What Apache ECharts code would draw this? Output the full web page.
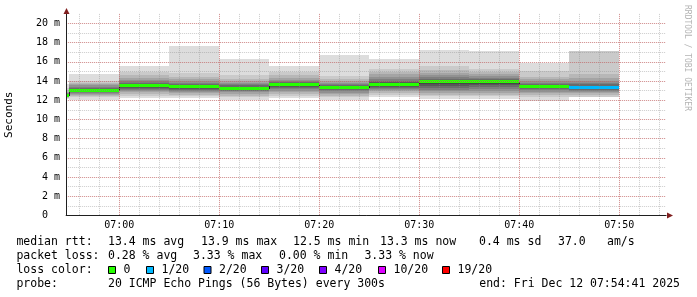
<!DOCTYPE html>
<html><head><meta charset="utf-8">
<script src="https://cdn.jsdelivr.net/npm/echarts@6/dist/echarts.min.js"></script>
<style>html,body{margin:0;padding:0;background:#fff}#c{width:697px;height:297px}</style>
</head><body><div id="c"></div>
<script>
// ---------------- data ----------------
const viewStart = '06:54:41';
const viewEnd = '07:54:41';
const stepMinutes = 5;
const stepStart = ['06:50','06:55','07:00','07:05','07:10','07:15','07:20','07:25','07:30','07:35','07:40','07:45'];
const medianMs = [12.5, 13.0, 13.45, 13.35, 13.2, 13.6, 13.3, 13.6, 13.9, 13.9, 13.4, 13.25];
const lostPings = [0,0,0,0,0,0,0,0,0,0,0,1];
// sorted round-trip times of the 20 pings per step (ms); null = lost
const pings = [
  [12.1,12.2,12.28,12.33,12.38,12.42,12.45,12.48,12.5,12.5,12.52,12.55,12.6,12.65,12.72,12.8,12.9,13.05,13.3,13.7],
  [12.0,12.3,12.45,12.6,12.7,12.8,12.85,12.9,12.95,13.0,13.02,13.1,13.2,13.3,13.4,13.55,13.7,13.85,14.05,14.75],
  [12.25,12.5,12.7,12.85,12.95,13.05,13.15,13.25,13.35,13.42,13.48,13.6,13.7,13.85,14.0,14.15,14.35,14.6,14.9,15.6],
  [12.2,12.45,12.6,12.75,12.9,13.0,13.1,13.2,13.27,13.33,13.38,13.5,13.6,13.7,13.85,14.0,14.2,14.45,14.8,17.7],
  [12.0,12.3,12.5,12.7,12.85,12.95,13.02,13.1,13.15,13.2,13.22,13.3,13.4,13.55,13.7,13.85,14.0,14.25,14.6,16.3],
  [12.2,12.5,12.7,12.85,13.0,13.15,13.25,13.35,13.45,13.55,13.62,13.7,13.8,13.9,14.0,14.15,14.35,14.6,14.95,15.55],
  [12.0,12.3,12.5,12.65,12.8,12.95,13.05,13.15,13.22,13.28,13.32,13.4,13.5,13.6,13.7,13.85,14.0,14.2,14.5,16.7],
  [12.35,12.6,12.8,12.95,13.1,13.2,13.3,13.4,13.5,13.58,13.62,13.75,13.9,14.05,14.25,14.45,14.7,15.0,15.3,16.35],
  [12.1,12.4,12.6,12.8,12.95,13.1,13.3,13.5,13.7,13.87,13.92,14.0,14.1,14.25,14.4,14.6,14.85,15.2,15.6,17.25],
  [12.1,12.4,12.6,12.8,12.95,13.15,13.35,13.55,13.75,13.87,13.92,14.0,14.1,14.2,14.35,14.5,14.7,14.95,15.25,17.1],
  [11.95,12.3,12.55,12.75,12.9,13.05,13.15,13.25,13.33,13.38,13.42,13.5,13.6,13.7,13.85,14.0,14.2,14.45,15.1,15.85],
  [12.2,12.35,12.55,12.75,12.9,13.0,13.08,13.15,13.2,13.25,13.3,13.38,13.5,13.65,13.8,14.0,14.3,14.7,17.1,null]
];
const yTickLabels = ['0  ','2 m','4 m','6 m','8 m','10 m','12 m','14 m','16 m','18 m','20 m'];
const yAxisName = 'Seconds';
const lossThresholds = [0,1,2,3,4,10,19];
const lossLabels = ['0','1/20','2/20','3/20','4/20','10/20','19/20'];
const lossColors = ['#26ff00','#00b8ff','#0059ff','#5e00ff','#7e00ff','#dd00ff','#ff0000'];
const rttLegend = ['median rtt:','13.4 ms avg','13.9 ms max','12.5 ms min','13.3 ms now','0.4 ms sd','37.0','am/s'];
const lossLegend = ['packet loss:','0.28 % avg','3.33 % max','0.00 % min','3.33 % now'];
const lossColorTitle = 'loss color:';
const probeLegend = ['probe:','20 ICMP Echo Pings (56 Bytes) every 300s'];
const endLegend = 'end: Fri Dec 12 07:54:41 2025';
const watermark = 'RRDTOOL / TOBI OETIKER';

// ---------------- layout / style ----------------
const FONT = '"DejaVu Sans Mono", monospace';
const rttX = [16.4,108,201,293,380,479,558,607];
const lossX = [16.4,108,193,279,364.4];
const boxX = [108,146,203.5,261,319,378,442];
const probeX = [16.4,108];
const rowY = [242.5,256.5,270.5,284.5];
const gridLeft = 66.13, gridTop = 13.9, plotW = 600, plotH = 201.6;

const toMin = s => { const p = s.split(':').map(Number); return p[0]*60 + p[1] + (p[2]||0)/60; };
const pad2 = n => String(n).padStart(2,'0');
const xMin = toMin(viewStart), xMax = toMin(viewEnd);
const pxPerMin = plotW / (xMax - xMin);
const minorStart = Math.floor(xMin/2)*2, majorStart = Math.floor(xMin/10)*10;

const smokeData = stepStart.map((s,i) => {
  const t0 = toMin(s);
  return [t0, t0 + stepMinutes].concat(pings[i].map(v => v == null ? NaN : v));
});
function lossIndex(n){ let k=0; lossThresholds.forEach((t,i)=>{ if(n>=t) k=i; }); return k; }
const medData = stepStart.map((s,i) => {
  const t0 = toMin(s);
  return [t0, t0 + stepMinutes, medianMs[i], i>0 ? medianMs[i-1] : medianMs[i], lossIndex(lostPings[i])];
});

function layerGray(i){ const c = Math.floor(190/10*(10-i))+50; const h = c.toString(16).padStart(2,'0'); return '#'+h+h+h; }

function renderSmoke(params, api){
  const t0 = api.value(0), t1 = api.value(1);
  const children = [];
  for (let i = 1; i <= 10; i++){
    const lo = api.value(1+i), hi = api.value(22-i);
    if (isNaN(lo) || isNaN(hi)) continue;
    const a = api.coord([t0, hi]), b = api.coord([t1, lo]);
    const x0 = Math.round(a[0]), x1 = Math.round(b[0]);
    const y0 = Math.round(a[1]), y1 = Math.round(b[1]);
    const shape = echarts.graphic.clipRectByRect({x:x0, y:y0, width:x1-x0, height:Math.max(1,y1-y0)}, params.coordSys);
    if (!shape) continue;
    children.push({type:'rect', shape, style:{fill:layerGray(i)}});
  }
  return {type:'group', children};
}
function renderMedian(params, api){
  const t0 = api.value(0), t1 = api.value(1), m = api.value(2), pm = api.value(3), li = api.value(4);
  const a = api.coord([t0, m]), b = api.coord([t1, m]), p = api.coord([t0, pm]);
  const cs = params.coordSys;
  const x0 = Math.max(Math.round(a[0]), Math.round(cs.x)), x1 = Math.round(b[0]);
  const y = Math.round(a[1]);
  const children = [];
  if (Math.round(a[0]) >= cs.x){
    children.push({type:'line', shape:{x1:x0+0.5, y1:Math.round(p[1]), x2:x0+0.5, y2:y}, style:{stroke:'#202020', lineWidth:1}});
  }
  children.push({type:'rect', shape:{x:x0, y:y-2, width:x1-x0, height:3}, style:{fill:lossColors[li]}});
  return {type:'group', children};
}

const minorColor = 'rgba(143,143,143,0.45)';
const majorColor = 'rgba(222,79,79,0.5)';
const axisFont = {fontFamily: FONT, fontSize: 10, color: '#000'};

const graphics = [];
function addText(t, x, y, align){
  graphics.push({type:'text', x, y, z:100, style:{text:t, font:'11.5px '+FONT, fill:'#000', textAlign:align||'left', textVerticalAlign:'middle', align:align||'left', verticalAlign:'middle'}});
}
rttLegend.forEach((t,i)=>addText(t, rttX[i], rowY[0]));
lossLegend.forEach((t,i)=>addText(t, lossX[i], rowY[1]));
addText(lossColorTitle, 16.4, rowY[2]);
lossLabels.forEach((t,i)=>{
  graphics.push({type:'rect', z:100, shape:{x:boxX[i]+0.5, y:rowY[2]-4, width:7, height:7}, style:{fill:lossColors[i], stroke:'#000', lineWidth:1}});
  addText(t, boxX[i]+15.5, rowY[2]);
});
probeLegend.forEach((t,i)=>addText(t, probeX[i], rowY[3]));
addText(endLegend, 680, rowY[3], 'right');
graphics.push({type:'text', x:687, y:5, rotation:-Math.PI/2, z:100, style:{text:watermark, font:'8px '+FONT, fill:'#b4b4b4', textAlign:'left', textVerticalAlign:'middle', align:'left', verticalAlign:'middle'}});
// axis arrows
graphics.push({type:'polygon', z:100, shape:{points:[[63.5,14],[69.5,14],[66.5,8]]}, style:{fill:'#801f1f'}});
graphics.push({type:'polygon', z:100, shape:{points:[[667,212.5],[667,218.5],[673,215.5]]}, style:{fill:'#801f1f'}});

const hiddenY = gi => ({type:'value', gridIndex:gi, min:0, max:21, show:false});
const chart = echarts.init(document.getElementById('c'), null, {renderer:'canvas'});
chart.setOption({
  animation: false,
  backgroundColor: '#fff',
  grid: [
    {left: gridLeft, top: gridTop, width: plotW, height: plotH, containLabel:false, outerBoundsMode:'none'},
    {left: gridLeft - (xMin-minorStart)*pxPerMin, top: gridTop, width: (xMax-minorStart)*pxPerMin, height: plotH, containLabel:false, outerBoundsMode:'none'},
    {left: gridLeft - (xMin-majorStart)*pxPerMin, top: gridTop, width: (xMax-majorStart)*pxPerMin, height: plotH, containLabel:false, outerBoundsMode:'none'}
  ],
  xAxis: [
    {type:'value', gridIndex:0, min:xMin, max:xMax, z:6, position:'bottom',
     axisLine:{show:true, lineStyle:{color:'#1f1f1f', width:1}}, axisTick:{show:false}, axisLabel:{show:false}, splitLine:{show:false}},
    {type:'value', gridIndex:1, min:minorStart, max:xMax, interval:2, z:5, position:'bottom',
     axisLine:{show:false}, axisTick:{show:false}, axisLabel:{show:false},
     splitLine:{show:true, showMinLine:false, showMaxLine:false, lineStyle:{color:minorColor, type:[1,1], width:1}}},
    {type:'value', gridIndex:2, min:majorStart, max:xMax, interval:10, z:5, position:'bottom',
     axisLine:{show:false}, axisTick:{show:false},
     axisLabel:Object.assign({show:true, margin:5, showMinLabel:false, showMaxLabel:false,
       formatter: v => { const r = Math.round(v); if (v < xMin || Math.abs(v-r)>1e-6 || r%10) return ''; return pad2(Math.floor(r/60))+':'+pad2(r%60); }}, axisFont),
     splitLine:{show:true, showMinLine:false, showMaxLine:false, lineStyle:{color:majorColor, type:[1,1], width:1}}}
  ],
  yAxis: [
    {type:'value', gridIndex:0, min:0, max:21, interval:2, position:'left', z:6,
     name: yAxisName, nameLocation:'middle', nameGap:51, nameRotate:90,
     nameTextStyle:{fontFamily:FONT, fontSize:11, color:'#000'},
     axisLine:{show:true, lineStyle:{color:'#1f1f1f', width:1}},
     axisTick:{show:false},
     axisLabel:Object.assign({show:true, margin:6, showMaxLabel:false,
       formatter: v => { const r = Math.round(v); if (Math.abs(v-r)>1e-6 || r%2) return ''; return yTickLabels[r/2] || ''; }}, axisFont),
     splitLine:{show:true, showMinLine:false, showMaxLine:false, lineStyle:{color:majorColor, type:[1,1], width:1}}},
    {type:'value', gridIndex:0, min:0, max:21, interval:1, z:5,
     axisLine:{show:false}, axisTick:{show:false}, axisLabel:{show:false},
     splitLine:{show:true, showMinLine:false, showMaxLine:false, lineStyle:{color:minorColor, type:[1,1], width:1}}},
    hiddenY(1), hiddenY(2)
  ],
  series: [
    {type:'custom', name:'smoke', xAxisIndex:0, yAxisIndex:0, z:2, silent:true,
     dimensions: Array.from({length:22}, (_,i)=>'d'+i),
     encode:{x:[0,1], y:[2]}, renderItem: renderSmoke, data: smokeData},
    {type:'custom', name:'median', xAxisIndex:0, yAxisIndex:0, z:3, silent:true,
     dimensions:['t0','t1','m','pm','li'], encode:{x:[0,1], y:[2]},
     renderItem: renderMedian, data: medData}
  ],
  graphic: graphics
});
</script></body></html>
